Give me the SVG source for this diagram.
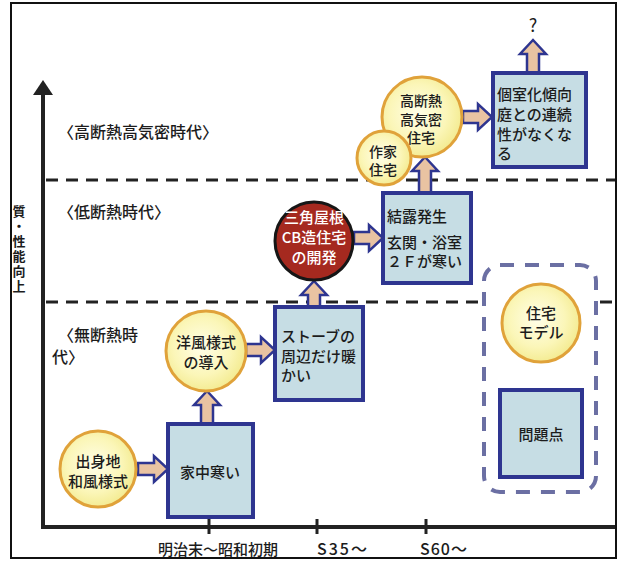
<svg xmlns="http://www.w3.org/2000/svg" width="622" height="562" viewBox="0 0 622 562">
<defs>
<radialGradient id="yel" cx="0.45" cy="0.45" r="0.6">
<stop offset="0" stop-color="#fffee8"/>
<stop offset="0.6" stop-color="#fbf6b8"/>
<stop offset="1" stop-color="#f2e98a"/>
</radialGradient>
<style>
text{font-family:"Noto Sans CJK JP","Noto Sans CJK SC",sans-serif;font-size:15px;fill:#1c1c1c;font-weight:500}
.c{text-anchor:middle}
.era{font-size:16px}
.sm{font-size:14px}
.yc{fill:url(#yel);stroke:#e0a23a;stroke-width:3}
.bx{fill:#c6dde4;stroke:#2e3590;stroke-width:4}
.ar{fill:#e9c3a2;stroke:#2e3590;stroke-width:2.5;stroke-linejoin:miter}
.ax{stroke:#222;stroke-width:4;fill:none}
.dl{stroke:#222;stroke-width:3;stroke-dasharray:12 8;fill:none}
.tk{stroke:#222;stroke-width:3}
.vt{writing-mode:vertical-rl;font-size:13px;font-weight:700;letter-spacing:2px}
</style>
</defs>
<rect x="11" y="3" width="605" height="555" fill="#fff" stroke="#111" stroke-width="2"/>

<g id="axes">
<line class="ax" x1="43" y1="94" x2="43" y2="529"/>
<polygon points="43,80 33,95 53,95" fill="#222"/>
<line class="ax" x1="41" y1="527" x2="615" y2="527"/>
<line class="tk" x1="209" y1="519" x2="209" y2="534"/>
<line class="tk" x1="317" y1="519" x2="317" y2="534"/>
<line class="tk" x1="426" y1="519" x2="426" y2="534"/>
<text class="c" x="218" y="555">明治末～昭和初期</text>
<text class="c" x="343" y="555" style="font-size:16px;letter-spacing:2px">S35～</text>
<text class="c" x="444" y="555" style="font-size:16px;letter-spacing:1px">S60～</text>
<text class="vt" x="19" y="205">質・性能向上</text>
</g>

<g id="eras">
<line class="dl" x1="46" y1="180" x2="615" y2="180"/>
<line class="dl" x1="46" y1="302" x2="480" y2="302"/>
<line class="dl" x1="600" y1="302" x2="615" y2="302" stroke-dasharray="12 0"/>
<text class="era" x="58" y="138">〈高断熱高気密時代〉</text>
<text class="era" x="58" y="218">〈低断熱時代〉</text>
<text class="era" x="58" y="341">〈無断熱時</text>
<text class="era" x="52" y="363">代〉</text>
</g>

<g id="connectors">
<polygon class="ar" points="138,463 154,463 154,456 168,469 154,482 154,475 138,475"/>
<polygon class="ar" points="201,424 201,405 194,405 207,391 220,405 213,405 213,424"/>
<polygon class="ar" points="246,344 261,344 261,337 275,350 261,363 261,356 246,356"/>
<polygon class="ar" points="308,307 308,295 301,295 314,281 327,295 320,295 320,307"/>
<polygon class="ar" points="354,232 369,232 369,225 383,238 369,251 369,244 354,244"/>
<polygon class="ar" points="419,193 419,171 412,171 425,157 438,171 431,171 431,193"/>
<polygon class="ar" points="463,111 478,111 478,104 492,117 478,130 478,123 463,123"/>
<polygon class="ar" points="527,73 527,54 520,54 533,40 546,54 539,54 539,73"/>
</g>

<g id="n-shusshin">
<circle class="yc" cx="98" cy="469" r="38"/>
<text class="c" x="98" y="467">出身地</text>
<text class="c" x="98" y="487">和風様式</text>
</g>
<g id="n-iejuu">
<rect class="bx" x="168" y="424" width="85" height="93"/>
<text class="c" x="210" y="478">家中寒い</text>
</g>
<g id="n-youfuu">
<circle class="yc" cx="206" cy="351" r="40"/>
<text class="c" x="206" y="348">洋風様式</text>
<text class="c" x="206" y="368">の導入</text>
</g>
<g id="n-stove">
<rect class="bx" x="275" y="307" width="88" height="93"/>
<text x="281" y="342">ストーブの</text>
<text x="281" y="362">周辺だけ暖</text>
<text x="281" y="381">かい</text>
</g>
<g id="n-cb">
<circle cx="314" cy="241" r="39" fill="#a5291f" stroke="#161616" stroke-width="3"/>
<text class="c" x="314" y="223" style="fill:#fff">三角屋根</text>
<text class="c" x="314" y="243" style="fill:#fff">CB造住宅</text>
<text class="c" x="314" y="263" style="fill:#fff">の開発</text>
</g>
<g id="n-ketsuro">
<rect class="bx" x="383" y="193" width="88" height="90"/>
<text x="387" y="222">結露発生</text>
<text x="387" y="248">玄関・浴室</text>
<text x="387" y="267">２Ｆが寒い</text>
</g>
<g id="n-koudannetsu">
<circle class="yc" cx="422" cy="117" r="40"/>
<text class="c sm" x="421" y="106">高断熱</text>
<text class="c sm" x="421" y="124.5">高気密</text>
<text class="c sm" x="421" y="143">住宅</text>
</g>
<g id="n-sakka">
<circle class="yc" cx="384" cy="158" r="27"/>
<text class="c sm" x="383" y="156.5">作家</text>
<text class="c sm" x="383" y="175">住宅</text>
</g>
<g id="n-koshitsu">
<rect class="bx" x="493" y="73" width="93" height="94"/>
<text x="497" y="100">個室化傾向</text>
<text x="497" y="120">庭との連続</text>
<text x="497" y="139.5">性がなくな</text>
<text x="497" y="159">る</text>
</g>
<g id="n-question">
<text class="c" x="533" y="32" style="font-size:18px;font-weight:400">?</text>
</g>
<g id="legend">
<rect x="484" y="265" width="112" height="227" rx="16" fill="none" stroke="#6b6fa3" stroke-width="4" stroke-dasharray="14 11"/>
<circle class="yc" cx="541" cy="323" r="39"/>
<text class="c" x="541" y="319">住宅</text>
<text class="c" x="541" y="338">モデル</text>
<rect class="bx" x="500" y="390" width="82" height="87"/>
<text class="c" x="541" y="440">問題点</text>
</g>
</svg>
